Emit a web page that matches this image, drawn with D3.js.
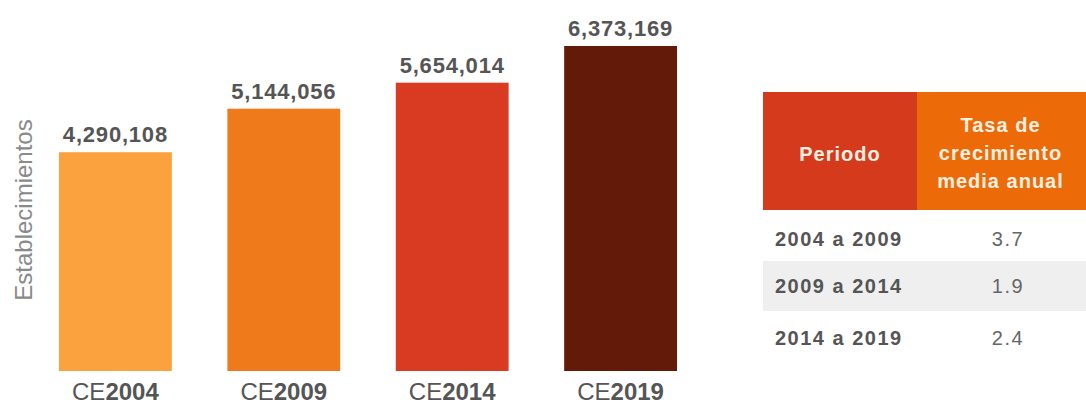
<!DOCTYPE html>
<html><head><meta charset="utf-8">
<script src="https://cdn.jsdelivr.net/npm/d3@7"></script>
<style>
html,body{margin:0;padding:0;background:#fff;}
svg{display:block;font-family:"Liberation Sans",Arial,sans-serif;}
</style></head>
<body>
<svg id="chart" width="1086" height="404"></svg>
<script>
const categoryPrefix = ["CE","CE","CE","CE"];
const categoryYears = ["2004","2009","2014","2019"];
const establishments = [4290108, 5144056, 5654014, 6373169];
const barColors = ["#FBA13D","#EE7A1C","#D83A22","#631A08"];
const yAxisTitle = "Establecimientos";
const tableHeaders = [["Periodo"], ["Tasa de","crecimiento","media anual"]];
const periods = ["2004 a 2009","2009 a 2014","2014 a 2019"];
const growthRates = ["3.7","1.9","2.4"];

const svg = d3.select("#chart");
const x = d3.scaleBand().domain(categoryYears).range([59, 677]).paddingInner(0.33).paddingOuter(0);
const y = d3.scaleLinear().domain([0, d3.max(establishments)]).range([371, 46]);
const fmt = d3.format(",");

svg.selectAll("rect.bar").data(establishments).join("rect")
  .attr("class","bar")
  .attr("x",(d,i)=>x(categoryYears[i]))
  .attr("width",x.bandwidth())
  .attr("y",d=>y(d))
  .attr("height",d=>y(0)-y(d))
  .attr("fill",(d,i)=>barColors[i]);

svg.selectAll("text.val").data(establishments).join("text")
  .attr("class","val")
  .attr("x",(d,i)=>x(categoryYears[i])+x.bandwidth()/2)
  .attr("y",d=>y(d)-10)
  .attr("text-anchor","middle")
  .attr("font-size",22).attr("font-weight","bold")
  .attr("letter-spacing","0.8px")
  .attr("fill","#555")
  .text(d=>fmt(d));

const cat = svg.selectAll("text.cat").data(categoryYears).join("text")
  .attr("class","cat")
  .attr("x",d=>x(d)+x.bandwidth()/2)
  .attr("y",400)
  .attr("text-anchor","middle")
  .attr("font-size",24)
  .attr("fill","#555");
cat.append("tspan").text((d,i)=>categoryPrefix[i]);
cat.append("tspan").attr("font-weight","bold").text(d=>d);

svg.append("text")
  .attr("transform","translate(32,210) rotate(-90)")
  .attr("text-anchor","middle")
  .attr("font-size",24)
  .attr("fill","#8a8a8a")
  .text(yAxisTitle);

// table
const tx0 = 763, tsplit = 917, tx1 = 1100;
const headTop = 92, headBot = 210, rowH = 50;
const colX = [[tx0,tsplit],[tsplit,tx1]];
const headColors = ["#D63A1C","#ED6A08"];
const g = svg.append("g");
g.selectAll("rect.head").data(tableHeaders).join("rect")
  .attr("x",(d,i)=>colX[i][0]).attr("width",(d,i)=>colX[i][1]-colX[i][0])
  .attr("y",headTop).attr("height",headBot-headTop)
  .attr("fill",(d,i)=>headColors[i]);
const headBaselines = [[161],[132,160,188]];
tableHeaders.forEach((lines,i)=>{
  g.selectAll(null).data(lines).join("text")
    .attr("x",(colX[i][0]+colX[i][1])/2 + (i===1?-8:0))
    .attr("y",(d,j)=>headBaselines[i][j])
    .attr("text-anchor","middle")
    .attr("font-size",20).attr("font-weight","bold")
    .attr("letter-spacing","1px")
    .attr("fill","#FFF0E0")
    .text(d=>d);
});
g.selectAll("rect.row").data(periods).join("rect")
  .attr("x",tx0).attr("width",tx1-tx0)
  .attr("y",(d,i)=>headBot+1+i*rowH).attr("height",rowH)
  .attr("fill",(d,i)=>i%2===1?"#EFEFEF":"#fff");
const rowBase = [246,293,345];
g.selectAll("text.per").data(periods).join("text")
  .attr("x",775).attr("y",(d,i)=>rowBase[i])
  .attr("font-size",20).attr("font-weight","bold")
  .attr("letter-spacing","1.5px")
  .attr("fill","#555").text(d=>d);
g.selectAll("text.rate").data(growthRates).join("text")
  .attr("x",1008).attr("y",(d,i)=>rowBase[i])
  .attr("text-anchor","middle")
  .attr("font-size",20).attr("letter-spacing","1.5px")
  .attr("fill","#666").text(d=>d);
</script>
</body></html>
